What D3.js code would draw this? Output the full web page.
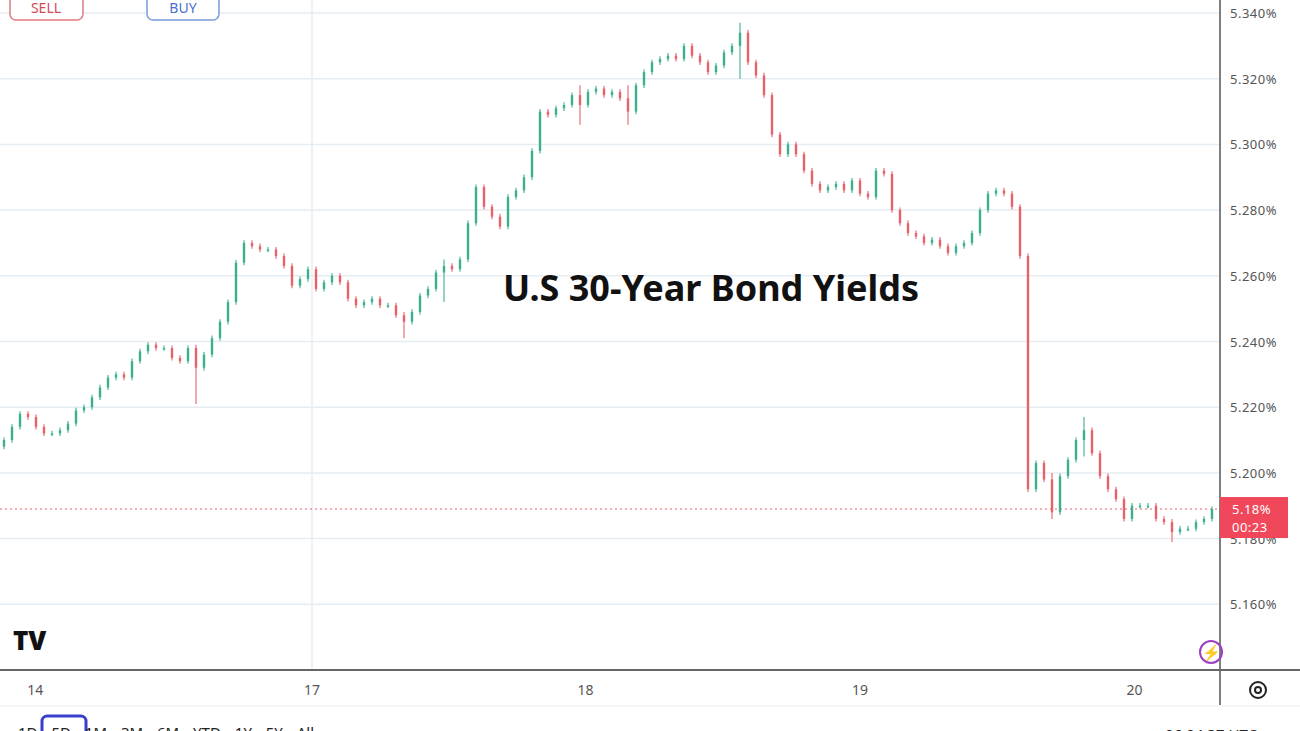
<!DOCTYPE html>
<html>
<head>
<meta charset="utf-8">
<script src="https://cdn.jsdelivr.net/npm/d3@7"></script>
<style>
  body { margin: 0; background: #fff; font-family: "Noto Sans", sans-serif; }
</style>
</head>
<body>
<div id="chart"></div>
<script>
// yield closes, one candle every ~8px
const closes = [5.210,5.214,5.218,5.217,5.214,5.212,5.212,5.213,5.215,5.219,
  5.220,5.223,5.226,5.229,5.230,5.229,5.234,5.237,5.239,5.238,
  5.238,5.235,5.234,5.238,5.232,5.236,5.241,5.246,5.252,5.264,
  5.270,5.269,5.268,5.268,5.266,5.263,5.257,5.259,5.262,5.256,
  5.258,5.260,5.258,5.253,5.251,5.252,5.253,5.251,5.251,5.248,
  5.246,5.249,5.254,5.256,5.261,5.263,5.262,5.265,5.276,5.287,
  5.281,5.278,5.275,5.284,5.286,5.290,5.298,5.310,5.309,5.311,
  5.312,5.315,5.312,5.316,5.317,5.315,5.316,5.314,5.310,5.318,
  5.322,5.325,5.326,5.327,5.326,5.330,5.327,5.325,5.322,5.324,
  5.328,5.330,5.334,5.325,5.321,5.315,5.303,5.297,5.300,5.297,
  5.292,5.288,5.286,5.287,5.288,5.286,5.289,5.285,5.284,5.292,
  5.291,5.280,5.276,5.273,5.272,5.270,5.271,5.269,5.267,5.269,
  5.270,5.273,5.280,5.285,5.286,5.285,5.281,5.266,5.195,5.203,
  5.198,5.188,5.199,5.204,5.210,5.213,5.206,5.199,5.195,5.192,
  5.186,5.190,5.190,5.190,5.186,5.185,5.182,5.183,5.183,5.185,
  5.186,5.189];
const firstOpen = 5.208;
// notable wick extremes: candle index -> low / high
const spikeIdx = [24, 50, 55, 72, 78, 92, 131, 135, 146];
const spikeLow = [5.221, 5.241, 5.252, 5.306, 5.306, 5.320, 5.186, 5.205, 5.179];
const spikeHigh = [5.239, 5.249, 5.265, 5.318, 5.318, 5.337, 5.200, 5.217, 5.186];

const yTicks = [5.160, 5.180, 5.200, 5.220, 5.240, 5.260, 5.280, 5.300, 5.320, 5.340];
const dayLabels = ["14", "17", "18", "19", "20"];
const dayAt = [3.9, 38.5, 72.7, 107, 141.3];   // candle index where each day label sits
const lastPrice = 5.189;
const lastLabel = "5.18%";
const countdown = "00:23";

const width = 1300, height = 731;
const plotRight = 1220, plotBottom = 670;
const up = "#3cb08c", down = "#e8606a";

const svg = d3.select("#chart").append("svg")
  .attr("width", width).attr("height", height);

const candles = closes.map((c, i) => {
  const o = i === 0 ? firstOpen : closes[i - 1];
  const k = spikeIdx.indexOf(i);
  return {
    i: i, o: o, c: c,
    h: k >= 0 ? spikeHigh[k] : Math.max(o, c) + 0.0008,
    l: k >= 0 ? spikeLow[k] : Math.min(o, c) - 0.0008
  };
});

const x = d3.scaleLinear().domain([0, closes.length - 1]).range([4, 1212]);
const y = d3.scaleLinear().domain([5.140, 5.340]).range([plotBottom, 13]);

// grid
svg.append("g").selectAll("line").data(yTicks).join("line")
  .attr("x1", 0).attr("x2", plotRight)
  .attr("y1", d => y(d)).attr("y2", d => y(d))
  .attr("stroke", "#e6edf2").attr("stroke-width", 1.5);
svg.append("line")
  .attr("x1", x(dayAt[1])).attr("x2", x(dayAt[1]))
  .attr("y1", 0).attr("y2", plotBottom)
  .attr("stroke", "#e6edf2").attr("stroke-width", 1.5);

// last price dotted line
svg.append("line")
  .attr("x1", 0).attr("x2", plotRight)
  .attr("y1", y(lastPrice)).attr("y2", y(lastPrice))
  .attr("stroke", down).attr("stroke-width", 1).attr("stroke-dasharray", "2,3");

// candles
const g = svg.append("g");
g.selectAll("line.wick").data(candles).join("line")
  .attr("class", "wick")
  .attr("x1", d => x(d.i)).attr("x2", d => x(d.i))
  .attr("y1", d => y(d.h)).attr("y2", d => y(d.l))
  .attr("stroke", d => d.c >= d.o ? up : down).attr("stroke-width", 1.1);
g.selectAll("rect").data(candles).join("rect")
  .attr("x", d => x(d.i) - 1.2).attr("width", 2.4)
  .attr("y", d => y(Math.max(d.o, d.c)))
  .attr("height", d => Math.max(1.5, Math.abs(y(d.o) - y(d.c))))
  .attr("fill", d => d.c >= d.o ? up : down);

// axes frame
svg.append("line").attr("x1", plotRight).attr("x2", plotRight)
  .attr("y1", 0).attr("y2", 705).attr("stroke", "#555").attr("stroke-width", 1.5);
svg.append("line").attr("x1", 0).attr("x2", width)
  .attr("y1", plotBottom).attr("y2", plotBottom).attr("stroke", "#666").attr("stroke-width", 2);
svg.append("line").attr("x1", 0).attr("x2", width)
  .attr("y1", 706).attr("y2", 706).attr("stroke", "#eee");

svg.append("g").selectAll("text").data(yTicks).join("text")
  .attr("x", 1230).attr("y", d => y(d) + 5)
  .attr("font-size", 13).attr("fill", "#555").attr("letter-spacing", 0.5)
  .text(d => d.toFixed(3) + "%");

svg.append("g").selectAll("text").data(dayLabels).join("text")
  .attr("x", (d, i) => x(dayAt[i])).attr("y", 695)
  .attr("text-anchor", "middle").attr("font-size", 14).attr("fill", "#555")
  .text(d => d);

// last price tag
const tagY = y(lastPrice);
svg.append("rect").attr("x", plotRight).attr("y", tagY - 12)
  .attr("width", 68).attr("height", 41).attr("fill", "#f0485a");
svg.append("text").attr("x", 1232).attr("y", tagY + 5)
  .attr("font-size", 13).attr("fill", "#fff").attr("letter-spacing", 0.5).text(lastLabel);
svg.append("text").attr("x", 1232).attr("y", tagY + 23)
  .attr("font-size", 13).attr("fill", "#fff").attr("letter-spacing", 0.5).text(countdown);

// title
svg.append("text").attr("x", 711).attr("y", 301)
  .attr("text-anchor", "middle").attr("font-size", 36).attr("font-weight", "bold")
  .attr("fill", "#111").text("U.S 30-Year Bond Yields");

// sell / buy buttons
svg.append("rect").attr("x", 10).attr("y", -10).attr("width", 73).attr("height", 30)
  .attr("rx", 6).attr("fill", "#fff").attr("stroke", "#e07a84").attr("stroke-width", 1.5);
svg.append("text").attr("x", 46).attr("y", 13).attr("text-anchor", "middle")
  .attr("font-size", 14).attr("fill", "#d04a5a").text("SELL");
svg.append("rect").attr("x", 147).attr("y", -10).attr("width", 72).attr("height", 30)
  .attr("rx", 6).attr("fill", "#fff").attr("stroke", "#7a9be0").attr("stroke-width", 1.5);
svg.append("text").attr("x", 183).attr("y", 13).attr("text-anchor", "middle")
  .attr("font-size", 14).attr("fill", "#4a6fd0").text("BUY");

// TV logo
svg.append("text").attr("x", 13).attr("y", 650)
  .attr("font-size", 26).attr("font-weight", "900").attr("fill", "#111").text("TV");

// bolt icon
svg.append("circle").attr("cx", 1211).attr("cy", 652).attr("r", 11)
  .attr("fill", "none").attr("stroke", "#9b3fc0").attr("stroke-width", 2);
svg.append("text").attr("x", 1211).attr("y", 658).attr("text-anchor", "middle")
  .attr("font-size", 15).attr("fill", "#9b3fc0").text("⚡");

// settings icon
svg.append("circle").attr("cx", 1258).attr("cy", 690).attr("r", 8)
  .attr("fill", "none").attr("stroke", "#222").attr("stroke-width", 2);
svg.append("circle").attr("cx", 1258).attr("cy", 690).attr("r", 3)
  .attr("fill", "none").attr("stroke", "#222").attr("stroke-width", 2);

// bottom toolbar, cut off
svg.append("rect").attr("x", 42).attr("y", 716).attr("width", 44).attr("height", 30)
  .attr("rx", 5).attr("fill", "none").attr("stroke", "#3a3fd0").attr("stroke-width", 3);
svg.append("text").attr("x", 18).attr("y", 738).attr("font-size", 15).attr("fill", "#222")
  .attr("word-spacing", 10).text("1D  5D 1M 3M 6M YTD 1Y 5Y All");
svg.append("text").attr("x", 1165).attr("y", 740).attr("font-size", 15).attr("fill", "#222")
  .text("06:04:37 UTC");
</script>
</body>
</html>
